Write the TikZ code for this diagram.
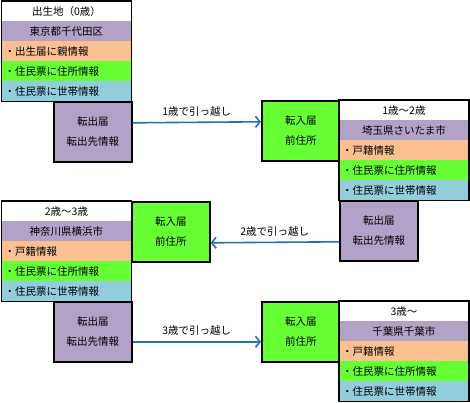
\documentclass[tikz,border=0pt]{standalone}
\usepackage{fontspec}
\setmainfont{Noto Sans CJK JP}
\usetikzlibrary{arrows.meta}
\definecolor{lav}{RGB}{179,162,199}
\definecolor{peach}{RGB}{250,192,144}
\definecolor{lime}{RGB}{102,255,51}
\definecolor{aqua}{RGB}{146,205,220}
\definecolor{arrowblue}{RGB}{31,114,186}
\begin{document}
\begin{tikzpicture}[x=1pt, y=-1pt,
      every node/.style={font=\fontsize{10.5}{12}\selectfont},
      row/.style={rectangle, minimum width=129.5pt, minimum height=20pt, inner sep=0pt, anchor=north west},
      title/.style={row, fill=white},
      place/.style={row, fill=lav},
      item/.style={row, text width=123.5pt, inner xsep=3pt, align=left},
      frame/.style={draw=black, line width=1.6pt},
      card/.style={rectangle, draw=black, line width=1.6pt, minimum width=78pt, minimum height=60pt, anchor=north west, align=center, font=\fontsize{10.5}{20}\selectfont},
      outbox/.style={card, fill=lav},
      inbox/.style={card, fill=lime},
      move/.style={draw=arrowblue, line width=1.6pt, -{Straight Barb[length=4.5pt,width=11pt]}, font=\fontsize{10.5}{12}\selectfont}
  ]
    \useasboundingbox (0,0) rectangle (470,402);

    % 0歳
    \node[title] (t1) at (1.5,1) {出生地（0歳）};
    \node[place] (p1) at (1.5,21) {東京都千代田区};
    \node[item, fill=peach] (a1) at (1.5,41) {・出生届に親情報};
    \node[item, fill=lime] (b1) at (1.5,61) {・住民票に住所情報};
    \node[item, fill=aqua] (c1) at (1.5,81) {・住民票に世帯情報};
    \draw[frame] (t1.north west) rectangle (c1.south east);
    \node[outbox] (out1) at (53,101) {転出届\\転出先情報};

    % 1歳～2歳
    \node[inbox] (in2) at (261,100) {転入届\\前住所};
    \node[title] (t2) at (339,100) {1歳～2歳};
    \node[place] (p2) at (339,120) {埼玉県さいたま市};
    \node[item, fill=peach] (a2) at (339,140) {・戸籍情報};
    \node[item, fill=lime] (b2) at (339,160) {・住民票に住所情報};
    \node[item, fill=aqua] (c2) at (339,180) {・住民票に世帯情報};
    \draw[frame] (t2.north west) rectangle (c2.south east);
    \node[outbox] (out2) at (339,200) {転出届\\転出先情報};

    % 2歳～3歳
    \node[title] (t3) at (1.5,201) {2歳～3歳};
    \node[place] (p3) at (1.5,221) {神奈川県横浜市};
    \node[item, fill=peach] (a3) at (1.5,241) {・戸籍情報};
    \node[item, fill=lime] (b3) at (1.5,261) {・住民票に住所情報};
    \node[item, fill=aqua] (c3) at (1.5,281) {・住民票に世帯情報};
    \draw[frame] (t3.north west) rectangle (c3.south east);
    \node[inbox] (in3) at (131,201) {転入届\\前住所};
    \node[outbox] (out3) at (53,301) {転出届\\転出先情報};

    % 3歳～
    \node[inbox] (in4) at (261,301) {転入届\\前住所};
    \node[title] (t4) at (339,301) {3歳～};
    \node[place] (p4) at (339,321) {千葉県千葉市};
    \node[item, fill=peach] (a4) at (339,341) {・戸籍情報};
    \node[item, fill=lime] (b4) at (339,361) {・住民票に住所情報};
    \node[item, fill=aqua] (c4) at (339,381) {・住民票に世帯情報};
    \draw[frame] (t4.north west) rectangle (c4.south east);

    \draw[move] ([yshift=9pt]out1.east) -- node[above=2pt] {1歳で引っ越し} ([yshift=9pt]in2.west);
    \draw[move] ([yshift=-11pt]out2.west) -- node[above=2pt] {2歳で引っ越し} ([yshift=-11pt]in3.east);
    \draw[move] ([yshift=-10pt]out3.east) -- node[above=2pt] {3歳で引っ越し} ([yshift=-10pt]in4.west);
  \end{tikzpicture}
\end{document}
